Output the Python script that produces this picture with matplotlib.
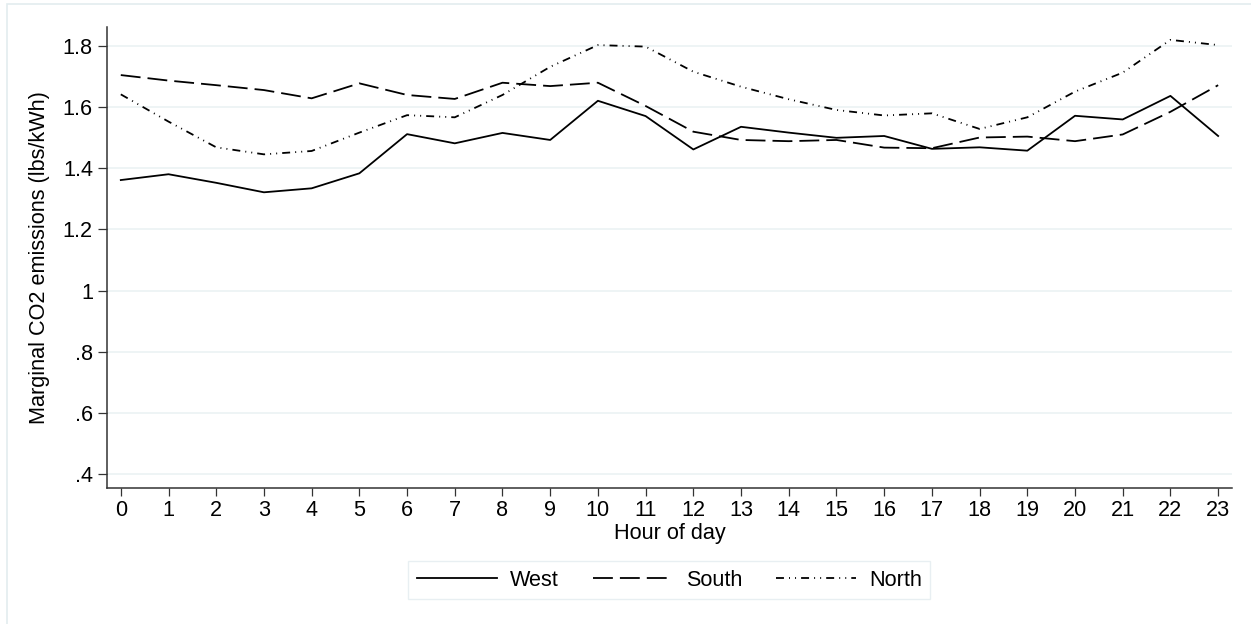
import matplotlib
matplotlib.use("Agg")
import matplotlib.pyplot as plt
from matplotlib.patches import Rectangle

plt.rcParams['font.family'] = ['Liberation Sans', 'DejaVu Sans']

# marginal CO2 emissions by hour of day (lbs/kWh)
hours = list(range(24))
west = [1.361, 1.380, 1.352, 1.321, 1.334, 1.383, 1.511, 1.481, 1.515, 1.492, 1.620, 1.570,
        1.461, 1.535, 1.516, 1.499, 1.505, 1.463, 1.468, 1.457, 1.571, 1.559, 1.636, 1.505]
south = [1.704, 1.686, 1.671, 1.655, 1.628, 1.677, 1.639, 1.626, 1.679, 1.668, 1.679, 1.603,
         1.519, 1.492, 1.488, 1.492, 1.467, 1.465, 1.500, 1.503, 1.488, 1.510, 1.584, 1.671]
north = [1.641, 1.552, 1.468, 1.445, 1.456, 1.516, 1.573, 1.566, 1.639, 1.731, 1.802, 1.797,
         1.715, 1.666, 1.625, 1.590, 1.572, 1.579, 1.528, 1.566, 1.650, 1.712, 1.819, 1.802]
yticks = [0.4, 0.6, 0.8, 1.0, 1.2, 1.4, 1.6, 1.8]
ytick_labels = ['.4', '.6', '.8', '1', '1.2', '1.4', '1.6', '1.8']

fig = plt.figure(figsize=(12.51, 6.24), dpi=100)
ax = fig.add_axes([0.0855, 0.218, 0.8993, 0.7387])

# light frame around the graph region
fig.patches.append(Rectangle((6.5 / 1251, -0.1), 1.2, 1.1 - 4.3 / 624,
                             transform=fig.transFigure, fill=False,
                             edgecolor='#e3ecef', linewidth=1.2))

fs = 15.6
lw = 1.3
ax.plot(hours, west, color='black', lw=lw, label='West')
ax.plot(hours, south, color='black', lw=lw, linestyle=(0, (11, 3.9)), label='South')
ax.plot(hours, north, color='black', lw=lw,
        linestyle=(0, (4.4, 2.8, 0.55, 2.8, 0.55, 2.8)), label='North')

ax.set_xlim(-0.29, 23.29)
ax.set_ylim(0.355, 1.861)
ax.set_xticks(hours)
ax.set_yticks(yticks)
ax.set_yticklabels(ytick_labels)
ax.grid(axis='y', color='#eaf1f3', linewidth=1.1)
ax.set_axisbelow(True)

for side in ['top', 'right']:
    ax.spines[side].set_visible(False)
for side in ['left', 'bottom']:
    ax.spines[side].set_color('#333333')
    ax.spines[side].set_linewidth(1.1)

ax.tick_params(axis='both', colors='#333333', labelcolor='black', labelsize=fs, width=0.9)
ax.tick_params(axis='y', length=6.7, pad=3.4)
ax.tick_params(axis='x', length=5.8, pad=3)

ax.set_xlabel('Hour of day', fontsize=fs, labelpad=1)
ax.set_ylabel('Marginal CO2 emissions (lbs/kWh)', fontsize=fs, labelpad=9)

leg = ax.legend(loc='upper center', bbox_to_anchor=(0.5, -0.135), ncol=3, fontsize=fs,
                frameon=True, fancybox=False, handlelength=3.7, handletextpad=0.6,
                columnspacing=1.55, borderpad=0.4)
leg.get_frame().set_edgecolor('#e3ecef')
leg.get_frame().set_linewidth(1.0)

fig.savefig('out.png', dpi=100)
